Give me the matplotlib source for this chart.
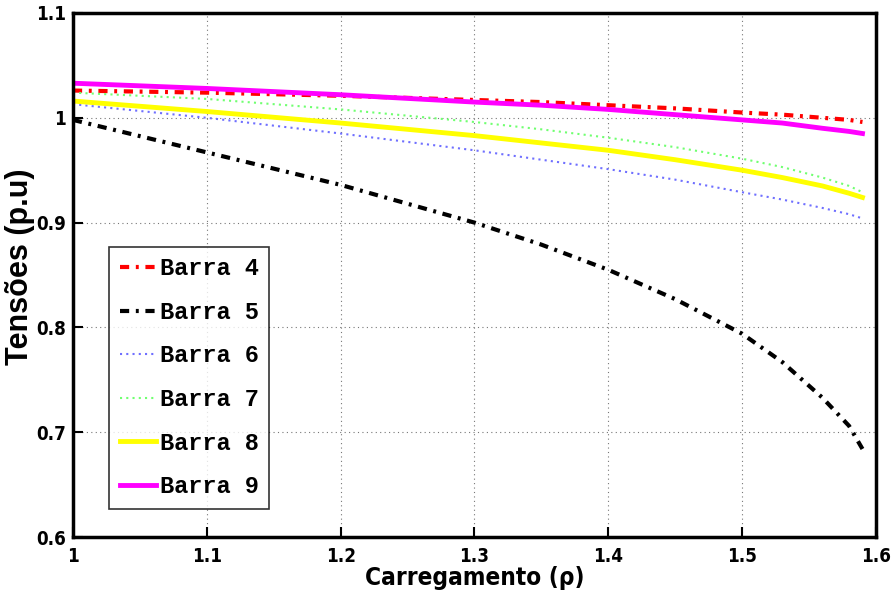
import matplotlib
matplotlib.use("Agg")
import matplotlib.pyplot as plt
from matplotlib import font_manager as fm

carregamento = [1.0, 1.1, 1.2, 1.3, 1.35, 1.4, 1.45, 1.5, 1.53, 1.56, 1.58, 1.59]
barra4 = [1.026, 1.024, 1.021, 1.017, 1.015, 1.012, 1.009, 1.005, 1.003, 1.000, 0.998, 0.996]
barra5 = [0.998, 0.967, 0.936, 0.900, 0.879, 0.855, 0.827, 0.794, 0.767, 0.733, 0.706, 0.684]
barra6 = [1.013, 1.000, 0.985, 0.969, 0.960, 0.951, 0.941, 0.929, 0.922, 0.914, 0.908, 0.904]
barra7 = [1.024, 1.018, 1.008, 0.996, 0.989, 0.981, 0.972, 0.961, 0.953, 0.943, 0.935, 0.929]
barra8 = [1.016, 1.006, 0.995, 0.983, 0.976, 0.969, 0.960, 0.950, 0.943, 0.935, 0.928, 0.924]
barra9 = [1.033, 1.028, 1.022, 1.015, 1.012, 1.008, 1.003, 0.998, 0.995, 0.990, 0.987, 0.985]
labels = ["Barra 4", "Barra 5", "Barra 6", "Barra 7", "Barra 8", "Barra 9"]


def find_condensed_bold():
    for f in fm.fontManager.ttflist:
        low = f.fname.lower()
        if ("narrow" in low or "condensed" in low) and ("bold" in low) and "oblique" not in low and "italic" not in low:
            if "sans" in low or "narrow" in low:
                return f.fname
    return None


cond = find_condensed_bold()
if cond:
    tick_fp = fm.FontProperties(fname=cond, size=13.5)
    xlab_fp = fm.FontProperties(fname=cond, size=17.5)
else:
    tick_fp = fm.FontProperties(family="Liberation Sans", weight="bold", size=13)
    xlab_fp = fm.FontProperties(family="Liberation Sans", weight="bold", size=17)

fig = plt.figure(figsize=(8.91, 6.04), dpi=100)
ax = fig.add_axes([0.0819, 0.1109, 0.9011, 0.8676])

ax.plot(carregamento, barra4, color="red", lw=3, linestyle=(0, (2.2, 1.6, 0.7, 1.6)), label=labels[0])
ax.plot(carregamento, barra5, color="black", lw=3, linestyle=(0, (2.2, 1.6, 0.7, 1.6)), label=labels[1])
ax.plot(carregamento, barra6, color="#6f6fff", lw=1.5, linestyle=(0, (1, 2)), label=labels[2])
ax.plot(carregamento, barra7, color="#70ff70", lw=1.5, linestyle=(0, (1, 2)), label=labels[3])
ax.plot(carregamento, barra8, color="yellow", lw=3.5, linestyle="-", label=labels[4])
ax.plot(carregamento, barra9, color="magenta", lw=3.5, linestyle="-", label=labels[5])

ax.set_xlim(1.0, 1.6)
ax.set_ylim(0.6, 1.1)
ax.set_xticks([1.0, 1.1, 1.2, 1.3, 1.4, 1.5, 1.6])
ax.set_xticklabels(["1", "1.1", "1.2", "1.3", "1.4", "1.5", "1.6"])
ax.set_yticks([0.6, 0.7, 0.8, 0.9, 1.0, 1.1])
ax.set_yticklabels(["0.6", "0.7", "0.8", "0.9", "1", "1.1"])
ax.grid(True, color="#777777", linestyle=(0, (1, 3)), linewidth=0.8)
ax.tick_params(direction="in", length=7, width=1.5, pad=5)
ax.tick_params(axis="x", pad=7)
for lab in ax.get_xticklabels() + ax.get_yticklabels():
    lab.set_fontproperties(tick_fp)
for s in ax.spines.values():
    s.set_linewidth(2.5)

ax.set_ylabel("Tensões (p.u)", fontsize=22, fontweight="bold", family="Liberation Sans")
ax.yaxis.set_label_coords(-0.047, 0.515)
ax.set_xlabel("Carregamento (ρ)", fontproperties=xlab_fp)
ax.xaxis.set_label_coords(0.5, -0.055)

leg = ax.legend(loc="lower left", bbox_to_anchor=(0.045, 0.054), borderaxespad=0,
                prop={"family": "Liberation Mono", "weight": "bold", "size": 17},
                frameon=True, fancybox=False, edgecolor="black", handlelength=1.55,
                labelspacing=0.87, handletextpad=0.15, borderpad=0.45)
leg.get_frame().set_linewidth(1.2)

fig.savefig("out.png", dpi=100)
